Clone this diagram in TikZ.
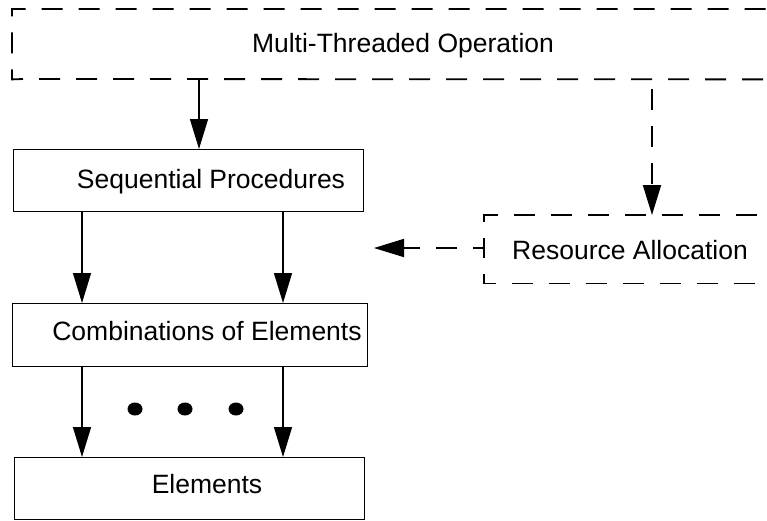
\documentclass[tikz,border=0pt]{standalone}
\usepackage{fontspec}
\setmainfont{Liberation Sans}
\usetikzlibrary{arrows.meta}
\begin{document}
\begin{tikzpicture}[x=1pt,y=-1pt,
  box/.style={draw, line width=1.4pt, rectangle, inner sep=0pt, anchor=north west},
  dframe/.style={rectangle, inner sep=0pt, anchor=north west},
  dline/.style={line width=1.8pt, dash pattern=on 21pt off 16pt},
  lbl/.style={font=\fontsize{26.5}{30}\selectfont, anchor=base, inner sep=0pt},
  arr/.style={line width=1.4pt, -{Triangle[length=30pt, width=18pt]}},
  darr/.style={dline, -{Triangle[length=30pt, width=18pt]}}
]
\useasboundingbox (0,0) rectangle (767,520);
\clip (0,0) rectangle (767,520);
% boxes
\node[dframe, minimum width=790pt, minimum height=70pt] (multi) at (12,9) {};
\node[box, minimum width=350pt, minimum height=62pt] (seq) at (13,149) {};
\node[box, minimum width=355pt, minimum height=63pt] (comb) at (12,303) {};
\node[box, minimum width=350pt, minimum height=62pt] (elem) at (14,457) {};
\node[dframe, minimum width=320pt, minimum height=68pt] (res) at (484,215) {};
% dashed outlines (drawn edge by edge to set the dash phase at the corners)
\coordinate (mc) at (23,79);
\draw[dline] (mc) -- (multi.south west) -- (multi.north west) -- (multi.north east);
\draw[dline, dash phase=21pt] (mc) -- (multi.south east);
\coordinate (rc) at (484,248);
\draw[dline, dash phase=11pt] (rc) -- (res.north west) -- (res.north east);
\draw[dline, dash phase=11pt] (rc) -- (res.south west) -- (res.south east);
% labels
\node[lbl] (tmulti) at (403,52) {Multi-Threaded Operation};
\node[lbl] (tseq) at (211,188) {Sequential Procedures};
\node[lbl] (tcomb) at (207,340) {Combinations of Elements};
\node[lbl] (telem) at (207,493) {Elements};
\node[lbl] (tres) at (630,259) {Resource Allocation};
% columns
\coordinate (cA) at (199,0);
\coordinate (c1) at (82,0);
\coordinate (c2) at (283,0);
\coordinate (cR) at (652,0);
\coordinate (lefttip) at (374,248);
% connectors
\draw[arr] (multi.south -| cA) -- (seq.north -| cA);
\draw[arr] (seq.south -| c1) -- (comb.north -| c1);
\draw[arr] (seq.south -| c2) -- (comb.north -| c2);
\draw[arr] (comb.south -| c1) -- (elem.north -| c1);
\draw[arr] (comb.south -| c2) -- (elem.north -| c2);
\draw[darr, dash phase=27pt] (multi.south -| cR) -- (res.north -| cR);
\draw[darr, dash phase=10pt] (rc) -- (lefttip);
% dots
\fill (135,409) ellipse (7.5pt and 6.5pt);
\fill (185,409) ellipse (7.5pt and 6.5pt);
\fill (236,409) ellipse (7.5pt and 6.5pt);
\end{tikzpicture}
\end{document}
